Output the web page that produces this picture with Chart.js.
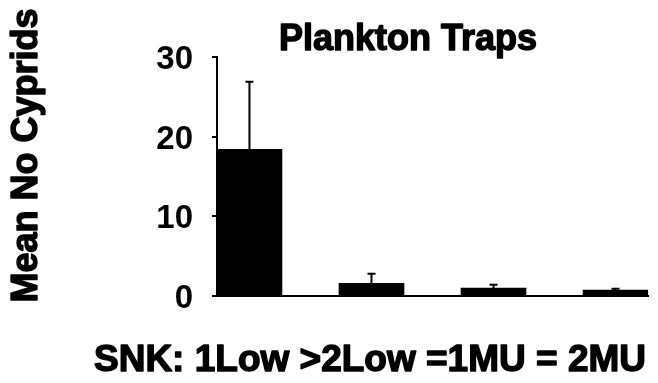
<!DOCTYPE html>
<html>
<head>
<meta charset="utf-8">
<script src="https://cdn.jsdelivr.net/npm/chart.js@4/dist/chart.umd.min.js"></script>
<style>
  html, body { margin: 0; padding: 0; background: #fff; }
  #wrap { width: 658px; height: 383px; }
</style>
</head>
<body>
<div id="wrap"><canvas id="chart" width="658" height="383"></canvas></div>
<script>
// data
const categories = ['1Low', '2Low', '1MU', '2MU'];
const meanCyprids = [18.4, 1.6, 1.0, 0.75];
const errorUp = [8.5, 1.2, 0.4, 0.15];
const yTicks = [0, 10, 20, 30];
const titleText = 'Plankton Traps';
const yTitle = 'Mean No Cyprids';
const noteText = 'SNK: 1Low >2Low =1MU = 2MU';

const FONT = '"Liberation Sans", Arial, sans-serif';

// one-sided error bars, drawn through the chart's scales
const errorBars = {
    id: 'errorBars',
    afterDatasetsDraw(chart) {
        const ctx = chart.ctx;
        const yScale = chart.scales.y;
        const meta = chart.getDatasetMeta(0);
        ctx.save();
        ctx.strokeStyle = '#000';
        ctx.lineWidth = 2;
        meta.data.forEach((bar, i) => {
            const yTop = yScale.getPixelForValue(meanCyprids[i] + errorUp[i]);
            const yBar = yScale.getPixelForValue(meanCyprids[i]);
            ctx.beginPath();
            ctx.moveTo(bar.x, yBar);
            ctx.lineTo(bar.x, yTop);
            ctx.moveTo(bar.x - 4, yTop);
            ctx.lineTo(bar.x + 4, yTop);
            ctx.stroke();
        });
        ctx.restore();
    }
};

// heavy text: fill plus a thin stroke, like the scanned original
function heavyText(ctx, str, x, y) {
    ctx.fillText(str, x, y);
    ctx.strokeText(str, x, y);
}

// title, rotated y label and the SNK note
const texts = {
    id: 'texts',
    afterDraw(chart) {
        const ctx = chart.ctx;
        const area = chart.chartArea;
        ctx.save();
        ctx.fillStyle = '#000';
        ctx.strokeStyle = '#000';
        ctx.lineWidth = 1.4;
        ctx.lineJoin = 'round';
        ctx.textAlign = 'center';
        ctx.textBaseline = 'alphabetic';

        ctx.font = 'bold 36px ' + FONT;
        heavyText(ctx, titleText, 408, 50);

        ctx.font = 'bold 37px ' + FONT;
        heavyText(ctx, noteText, 370, 371);

        ctx.translate(37, (area.top + area.bottom) / 2 - 21);
        ctx.rotate(-Math.PI / 2);
        ctx.font = 'bold 36px ' + FONT;
        heavyText(ctx, yTitle, 0, 0);
        ctx.restore();
    }
};

new Chart(document.getElementById('chart'), {
    type: 'bar',
    data: {
        datasets: [{
            label: yTitle,
            data: categories.map((c, i) => ({ x: i + 1, y: meanCyprids[i] })),
            backgroundColor: '#000',
            borderWidth: 0,
            barThickness: 65
        }]
    },
    options: {
        responsive: false,
        animation: false,
        layout: { padding: { left: 0, top: 57, right: 10, bottom: 87 } },
        plugins: {
            legend: { display: false },
            tooltip: { enabled: false }
        },
        scales: {
            x: {
                type: 'linear',
                offset: false,
                min: 0.734,
                max: 4.266,
                ticks: { display: false },
                grid: { display: false, drawTicks: false },
                border: { display: true, color: '#000', width: 2 },
                afterFit(scale) { scale.height = 0; }
            },
            y: {
                min: 0,
                max: 30,
                afterBuildTicks(scale) { scale.ticks = yTicks.map(v => ({ value: v })); },
                ticks: {
                    color: '#000',
                    padding: 19,
                    labelOffset: 3,
                    font: { family: FONT, size: 33, weight: 'bold' }
                },
                grid: { display: true, drawOnChartArea: false, drawTicks: true, tickLength: 5, color: '#000', lineWidth: 2 },
                border: { display: true, color: '#000', width: 2 },
                afterFit(scale) { scale.width = 217; }
            }
        }
    },
    plugins: [errorBars, texts]
});
</script>
</body>
</html>
